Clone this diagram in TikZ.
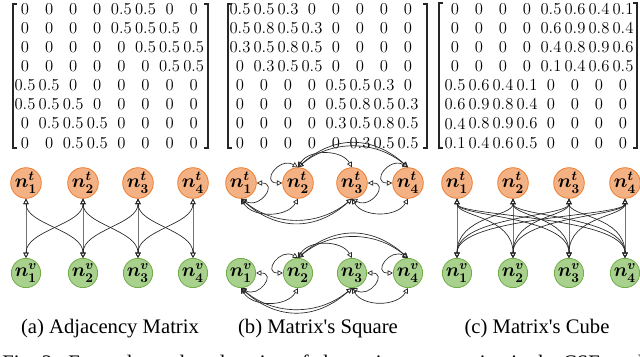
\documentclass[tikz,border=0pt]{standalone}
\usepackage{fontspec}
\newfontfamily\capfont{Liberation Serif}
\usetikzlibrary{arrows.meta}
\definecolor{tfill}{HTML}{F4B183}
\definecolor{tdraw}{HTML}{ED7D31}
\definecolor{vfill}{HTML}{A9D18E}
\definecolor{vdraw}{HTML}{70AD47}
\begin{document}
\begin{tikzpicture}[x=0.75pt,y=0.75pt,
  tnode/.style={circle,fill=tfill,draw=tdraw,line width=0.6pt,minimum size=19.5pt,inner sep=0pt,font=\Large\boldmath},
  vnode/.style={circle,fill=vfill,draw=vdraw,line width=0.6pt,minimum size=19.5pt,inner sep=0pt,font=\Large\boldmath},
  bi/.style={draw=black!85,line width=0.5pt,{Triangle[open,length=4pt,width=4pt]}-{Triangle[open,length=4pt,width=4pt]}},
  ent/.style={font=\fontsize{12.5}{12.5}\selectfont,inner sep=0pt},
  brk/.style={line width=0.8pt,draw=black!85},
  captext/.style={font=\capfont\fontsize{15.5}{15.5}\selectfont,inner sep=0pt,anchor=base}
]
\clip (0,0) rectangle (640,-357);
\useasboundingbox (0,0) rectangle (640,-357);

% ---------- matrices ----------
\foreach \row [count=\r] in {
  {0,0,0,0,0.5,0.5,0,0},{0,0,0,0,0.5,0.5,0.5,0},{0,0,0,0,0,0.5,0.5,0.5},{0,0,0,0,0,0,0.5,0.5},
  {0.5,0.5,0,0,0,0,0,0},{0.5,0.5,0.5,0,0,0,0,0},{0,0.5,0.5,0.5,0,0,0,0},{0,0,0.5,0.5,0,0,0,0}}{
  \foreach \e [count=\c] in \row {
    \node[ent] (A-\r-\c) at ({25+24.1*(\c-1)},{-9-19.1*(\r-1)}) {\e};
  }
}
\foreach \row [count=\r] in {
  {0.5,0.5,0.3,0,0,0,0,0},{0.5,0.8,0.5,0.3,0,0,0,0},{0.3,0.5,0.8,0.5,0,0,0,0},{0,0.3,0.5,0.5,0,0,0,0},
  {0,0,0,0,0.5,0.5,0.3,0},{0,0,0,0,0.5,0.8,0.5,0.3},{0,0,0,0,0.3,0.5,0.8,0.5},{0,0,0,0,0,0.3,0.5,0.5}}{
  \foreach \e [count=\c] in \row {
    \node[ent] (B-\r-\c) at ({240+24*(\c-1)},{-9-19.1*(\r-1)}) {\e};
  }
}
\foreach \row [count=\r] in {
  {0,0,0,0,0.5,0.6,0.4,0.1},{0,0,0,0,0.6,0.9,0.8,0.4},{0,0,0,0,0.4,0.8,0.9,0.6},{0,0,0,0,0.1,0.4,0.6,0.5},
  {0.5,0.6,0.4,0.1,0,0,0,0},{0.6,0.9,0.8,0.4,0,0,0,0},{0.4,0.8,0.9,0.6,0,0,0,0},{0.1,0.4,0.6,0.5,0,0,0,0}}{
  \foreach \e [count=\c] in \row {
    \node[ent] (C-\r-\c) at ({455+24*(\c-1)},{-9-19.1*(\r-1)}) {\e};
  }
}
% brackets
\draw[brk] (17,-4) -- (13,-4) -- (13,-148) -- (17,-148);
\draw[brk] (204,-4) -- (208,-4) -- (208,-148) -- (204,-148);
\draw[brk] (232,-4) -- (228,-4) -- (228,-148) -- (232,-148);
\draw[brk] (423,-4) -- (427,-4) -- (427,-148) -- (423,-148);
\draw[brk] (443,-3) -- (439,-3) -- (439,-148) -- (443,-148);
\draw[brk] (633,-3) -- (637,-3) -- (637,-148) -- (633,-148);

% ---------- graph nodes ----------
\foreach \i/\xa/\xb/\xc in {1/26/241/457,2/83/298/513,3/138/352/569,4/193/408/625}{
  \node[tnode] (at\i) at (\xa,-183) {$n_{\i}^{t}$};
  \node[vnode] (av\i) at (\xa,-273) {$n_{\i}^{v}$};
  \node[tnode] (bt\i) at (\xb,-183) {$n_{\i}^{t}$};
  \node[vnode] (bv\i) at (\xb,-273) {$n_{\i}^{v}$};
  \node[tnode] (ct\i) at (\xc,-183) {$n_{\i}^{t}$};
  \node[vnode] (cv\i) at (\xc,-273) {$n_{\i}^{v}$};
}

% ---------- (a) adjacency ----------
\foreach \i/\j in {1/1,1/2,2/1,2/2,2/3,3/2,3/3,3/4,4/3,4/4}{
  \draw[bi] (at\i.south) .. controls +(0,-26) and +(0,28) .. (av\j.north);
}

% ---------- (b) square ----------
\foreach \p in {bt,bv}{
  \draw[bi] (\p1.east) to[out=0,in=-30,looseness=2.5] (\p1.south);
  \draw[bi] (\p2.north) to[out=150,in=180,looseness=2.5] (\p2.west);
  \draw[bi] (\p3.east) to[out=0,in=-30,looseness=2.5] (\p3.south);
  \draw[bi] (\p4.north) to[out=150,in=180,looseness=2.5] (\p4.west);
  \draw[bi] (\p1.south) to[out=-60,in=-120] (\p2.south);
  \draw[bi] (\p1.south) to[out=-40,in=-140] (\p3.south);
  \draw[bi] (\p1.south) to[out=-42,in=-138,looseness=1.12] (\p3.south);
  \draw[bi] (\p3.south) to[out=-60,in=-120] (\p4.south);
  \draw[bi] (\p2.north) to[out=60,in=120] (\p3.north);
  \draw[bi] (\p2.north) to[out=40,in=140] (\p4.north);
  \draw[bi] (\p2.north) to[out=42,in=138,looseness=1.12] (\p4.north);
}

% ---------- (c) cube ----------
\foreach \i in {1,...,4}{
  \foreach \j in {1,...,4}{
    \draw[bi] (ct\i.south) .. controls +(0,-18) and +(0,42) .. (cv\j.north);
  }
}

% ---------- captions ----------
\node[captext] (capa) at (110,-333) {(a) Adjacency Matrix};
\node[captext] (capb) at (318,-333) {(b) Matrix's Square};
\node[captext] (capc) at (537,-333) {(c) Matrix's Cube};
\node[captext,anchor=base west] (fig) at (2,-369) {Fig. 2:\ \ Examples and explanation of alternating propagation in the CSE model};
\end{tikzpicture}
\end{document}
